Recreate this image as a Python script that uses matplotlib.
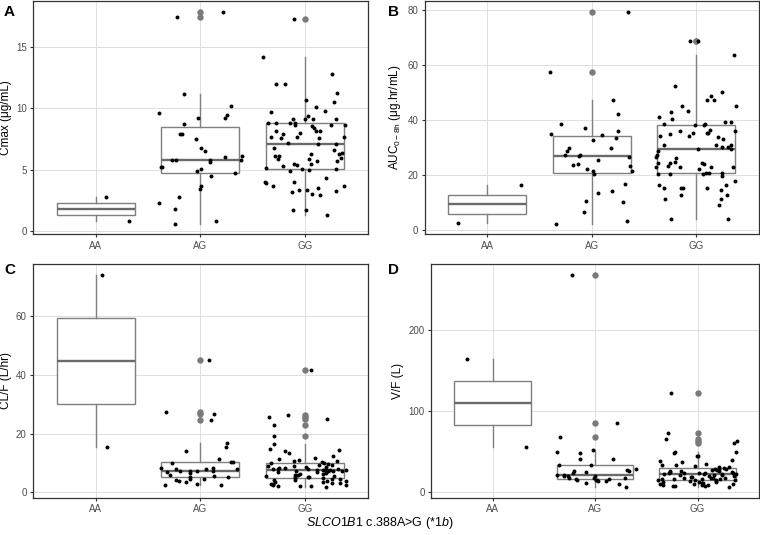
import numpy as np
import matplotlib.pyplot as plt

plt.rcParams['font.family'] = ['Liberation Sans', 'DejaVu Sans']
plt.rcParams['mathtext.fontset'] = 'custom'
plt.rcParams['mathtext.rm'] = 'Liberation Sans'
plt.rcParams['mathtext.it'] = 'Liberation Sans:italic'
plt.rcParams['mathtext.default'] = 'regular'

genotypes = ['AA', 'AG', 'GG']

# A: Cmax (ug/mL)
cmax_aa = [2.8, 0.8]
cmax_ag = [17.9, 17.5, 11.2, 10.2, 9.6, 9.5, 9.2, 9.2, 8.7, 7.9, 7.9, 7.5, 6.8, 6.5, 6.1, 6.0,
           5.8, 5.8, 5.8, 5.8, 5.65, 5.2, 5.2, 5.05, 4.9, 4.7, 4.45, 3.7, 3.4, 2.8, 2.3, 1.8, 0.8, 0.6]
cmax_gg = [17.3, 14.2, 12.8, 12.0, 12.0, 11.3, 10.7, 10.5, 10.1, 9.8, 9.7, 9.35, 9.15, 9.15, 9.15,
           9.1, 8.85, 8.8, 8.8, 8.8, 8.65, 8.65, 8.65, 8.55, 8.4, 8.15, 8.15, 8.15, 8.0, 7.9, 7.65,
           7.65, 7.65, 7.6, 7.6, 7.2, 7.1, 7.1, 6.8, 6.6, 6.4, 6.25, 6.25, 6.1, 6.1, 5.95, 5.9, 5.9,
           5.7, 5.7, 5.5, 5.5, 5.4, 5.3, 5.15, 5.1, 5.1, 4.95, 4.9, 4.3, 4.0, 4.0, 3.9, 3.7, 3.7,
           3.55, 3.35, 3.35, 3.25, 3.15, 3.05, 2.9, 1.75, 1.7, 1.3]

# B: AUC 0-8h (ug.hr/mL)
auc_aa = [16.5, 2.5]
auc_ag = [79.5, 57.6, 47.2, 42.2, 38.5, 37.3, 36.2, 35.0, 34.5, 33.7, 32.7, 30.0, 30.0, 29.0,
          27.3, 27.2, 26.9, 26.8, 25.7, 24.1, 23.9, 23.5, 22.3, 21.7, 21.6, 20.6, 16.8, 14.3,
          13.5, 10.7, 10.2, 6.8, 3.3, 2.4]
auc_gg = [68.7, 68.7, 63.6, 52.6, 50.3, 48.7, 47.4, 47.4, 45.1, 45.1, 43.4, 42.9, 41.3, 40.4,
          39.5, 39.5, 38.7, 38.7, 38.1, 38.1, 36.5, 36.1, 36.1, 35.3, 35.3, 35.2, 34.9, 34.4,
          34.4, 33.9, 33.1, 30.9, 30.9, 30.9, 30.1, 30.1, 29.7, 29.7, 28.7, 27.5, 26.8, 26.4,
          25.0, 24.4, 24.4, 24.4, 24.0, 23.5, 23.0, 23.0, 23.0, 23.0, 22.2, 21.0, 21.0, 21.0,
          20.5, 20.5, 20.5, 19.9, 18.1, 16.6, 16.4, 15.5, 15.5, 15.3, 15.3, 14.8, 12.7, 12.7,
          11.4, 11.4, 9.2, 4.1, 4.1]

# C: CL/F (L/hr)
cl_aa = [74.0, 15.5]
cl_ag = [45.0, 27.2, 26.7, 24.6, 16.7, 15.3, 14.2, 11.5, 10.3, 10.2, 9.9, 8.4, 8.3, 8.0, 7.9,
         7.9, 7.4, 7.4, 7.3, 7.1, 6.9, 6.6, 6.0, 5.7, 5.3, 5.2, 4.6, 4.4, 4.2, 3.9, 3.6, 2.9,
         2.5, 2.4]
cl_gg = [41.5, 26.2, 25.5, 24.8, 22.8, 19.0, 16.5, 14.9, 14.4, 14.2, 13.3, 12.3, 11.6, 11.3,
         11.0, 10.8, 10.5, 10.3, 10.1, 9.9, 9.6, 9.4, 9.2, 9.0, 8.8, 8.6, 8.5, 8.3, 8.2, 8.1,
         8.0, 7.9, 7.8, 7.8, 7.7, 7.6, 7.6, 7.5, 7.4, 7.3, 7.2, 7.1, 7.0, 6.9, 6.8, 6.6, 6.4,
         6.2, 6.0, 5.8, 5.6, 5.4, 5.3, 5.2, 5.1, 5.0, 4.9, 4.7, 4.5, 4.3, 4.1, 4.0, 3.8, 3.6,
         3.5, 3.3, 3.1, 3.0, 2.8, 2.6, 2.4, 2.2, 2.1, 2.0, 1.8]

# D: V/F (L)
vf_aa = [164.0, 55.0]
vf_ag = [268, 85, 68, 52, 50, 48.8, 41.4, 40.2, 33.2, 33.0, 28, 27.5, 26, 25.8, 24.2, 24.0,
         21.0, 20.5, 20.1, 20.0, 19.5, 18.0, 17.6, 17.2, 16.2, 16.0, 15.2, 14.8, 14.4, 13.8,
         13.1, 11.1, 9.5, 6.6]
vf_gg = [122, 73.4, 66, 63, 60, 49.3, 49, 48.4, 45, 44, 40, 38, 37, 35, 34, 33, 32, 31, 30.5,
         29.5, 29, 28.5, 28, 27.5, 27, 26.5, 26, 25.5, 25, 24.5, 24, 23.8, 23.5, 23.2, 23, 22.8,
         22.5, 22.2, 22, 21.5, 21, 20.5, 20, 19.5, 19, 18.5, 18, 17.5, 17, 16.8, 16.5, 16.2, 16,
         15.6, 15.3, 15.1, 14.9, 14.5, 14, 13.5, 13, 12.5, 12, 11.5, 11, 10.5, 10, 9.5, 9, 8.5,
         8.2, 8, 7.5, 7, 6.2]

panels = [
    ('A', 'Cmax (μg/mL)', [cmax_aa, cmax_ag, cmax_gg], [0, 5, 10, 15]),
    ('B', 'AUC$_{0-8h}$ (μg.hr/mL)', [auc_aa, auc_ag, auc_gg], [0, 20, 40, 60, 80]),
    ('C', 'CL/F (L/hr)', [cl_aa, cl_ag, cl_gg], [0, 20, 40, 60]),
    ('D', 'V/F (L)', [vf_aa, vf_ag, vf_gg], [0, 100, 200]),
]

W, H = 760, 535
boxes = [(33, 1, 367.5, 234.3), (424.5, 1, 759, 234.3),
         (33, 264, 367.5, 497.7), (431, 264, 759, 497.7)]
letters_pos = [(4, 12), (388, 12), (4, 270), (388, 270)]

fig = plt.figure(figsize=(7.6, 5.35), dpi=100)
rng = np.random.default_rng(7)

for (letter, ylabel, groups, yticks), (x0, y0, x1, y1), (lx, ly) in zip(panels, boxes, letters_pos):
    ax = fig.add_axes([x0 / W, 1 - y1 / H, (x1 - x0) / W, (y1 - y0) / H])
    ax.set_axisbelow(True)
    ax.grid(color='#dedede', lw=0.7)
    ax.boxplot(groups, positions=[1, 2, 3], widths=0.75, patch_artist=True, showcaps=False,
               boxprops=dict(facecolor='white', edgecolor='#7f7f7f', lw=1.0),
               medianprops=dict(color='#6a6a6a', lw=1.7),
               whiskerprops=dict(color='#7f7f7f', lw=1.0),
               flierprops=dict(marker='o', markerfacecolor='#7a7a7a', markeredgecolor='none',
                               markersize=4.6))
    for i, vals in enumerate(groups):
        xs = i + 1 + rng.uniform(-0.4, 0.4, len(vals))
        ax.scatter(xs, vals, s=8, color='black', lw=0, zorder=4)

    allv = np.concatenate([np.asarray(g, float) for g in groups])
    pad = 0.05 * (allv.max() - allv.min())
    ax.set_ylim(allv.min() - pad, allv.max() + pad)
    ax.set_xlim(0.4, 3.6)
    ax.set_xticks([1, 2, 3], genotypes)
    ax.set_yticks(yticks)
    ax.tick_params(length=2.5, color='#333333', labelcolor='#4d4d4d', labelsize=7, pad=2)
    for sp in ax.spines.values():
        sp.set_color('#333333')
        sp.set_linewidth(0.9)
    ax.set_ylabel(ylabel, fontsize=8.5, labelpad=3)
    fig.text(lx / W, 1 - ly / H, letter, fontsize=11, fontweight='bold', va='center')

fig.text(0.5, 1 - 523 / H, r'$\mathit{SLCO1B1}$ c.388A>G ($\mathit{*1b}$)',
         ha='center', va='center', fontsize=9)

fig.savefig('out.png', dpi=100)
